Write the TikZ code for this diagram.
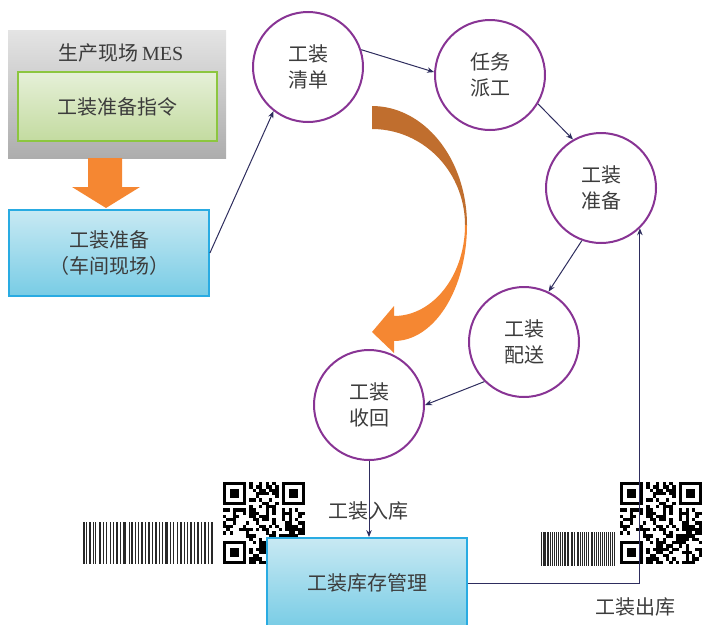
\documentclass[tikz,border=0pt]{standalone}
\usepackage{fontspec}
\setmainfont{Liberation Serif}
\newfontfamily\cjk{Noto Sans CJK SC}
\usetikzlibrary{arrows.meta}
\definecolor{navyline}{RGB}{46,45,94}
\definecolor{circpurple}{RGB}{136,52,148}
\definecolor{txtgray}{RGB}{60,60,60}
\definecolor{arcbrown}{RGB}{192,110,46}
\definecolor{arcorange}{RGB}{245,135,50}
\definecolor{greenborder}{RGB}{140,198,63}
\definecolor{greentop}{RGB}{230,240,216}
\definecolor{greenbot}{RGB}{195,219,160}
\definecolor{blueborder}{RGB}{41,171,226}
\definecolor{bluetop}{RGB}{200,233,243}
\definecolor{bluebot}{RGB}{120,204,229}
\definecolor{graytop}{RGB}{228,228,228}
\definecolor{graybot}{RGB}{173,173,173}
\definecolor{barcol}{RGB}{40,40,40}
\tikzset{
  txt/.style={font=\cjk\fontsize{20}{26}\selectfont, text=txtgray, align=center},
  circ/.style={txt, circle, draw=circpurple, line width=2pt, fill=white, minimum size=110pt, inner sep=0pt},
  graybox/.style={rectangle, top color=graytop, bottom color=graybot, minimum width=218pt, minimum height=128pt, inner sep=0pt},
  greenbox/.style={txt, rectangle, draw=greenborder, line width=1.8pt, top color=greentop, bottom color=greenbot, minimum width=199pt, minimum height=69pt, inner sep=0pt},
  bluebox/.style={txt, rectangle, draw=blueborder, line width=1.8pt, top color=bluetop, bottom color=bluebot, minimum width=200pt, inner sep=0pt},
  conn/.style={draw=navyline, line width=1pt, -{Stealth[length=7pt,width=5.5pt]}},
  barcode/.pic={
    \foreach \p/\w in {0/1.2, 2.5/0.8, 4.5/1.6, 7.5/0.8, 9.5/0.8, 12/2.0, 15.5/0.8, 17.5/1.2, 20.5/0.8, 23/0.8, 25/1.6, 28.5/0.8, 31/2.4, 35/0.8, 37/1.2, 40/0.8, 42/0.8, 44.5/2.0, 48/0.8, 50/1.2, 53/0.8, 55.5/1.6, 58.5/0.8, 61/0.8, 63/2.4, 67/0.8, 69/1.2, 72/0.8, 74.5/1.6, 77.5/0.8, 80/0.8, 82/2.0, 85.5/0.8, 88/1.2, 91/0.8, 93/1.6, 96/0.8, 98.8/1.2}
      {\fill[barcol] (\p,0) rectangle ++(\w,1);}
  },
  qrcode/.pic={
    \pgfmathsetseed{4242}
    \begin{scope}
      \clip (0,0) rectangle (82,82);
      \foreach \i in {0,...,24}{
        \foreach \j in {0,...,24}{
          \pgfmathrandominteger{\r}{0}{1}
          \ifnum\r=1\relax \fill[black] (\i*3.28,\j*3.28) rectangle ++(3.3,3.3);\fi
        }
      }
      \foreach \a/\b in {0/0,18/0,0/18}{
        \fill[white] ({(\a-1)*3.28},{(\b-1)*3.28}) rectangle ++(29.52,29.52);
        \fill[black] ({\a*3.28},{\b*3.28}) rectangle ++(22.96,22.96);
        \fill[white] ({(\a+1)*3.28},{(\b+1)*3.28}) rectangle ++(16.4,16.4);
        \fill[black] ({(\a+2)*3.28},{(\b+2)*3.28}) rectangle ++(9.84,9.84);
      }
    \end{scope}
  }
}
\begin{document}
\begin{tikzpicture}[x=1pt,y=-1pt]
\useasboundingbox (0,0) rectangle (703,624);
\clip (0,0) rectangle (703,624);

% top-left MES block
\node[graybox] (mes) at (117,94) {};
\node[txt] (mestxt) at (121,53) {生产现场\,{\rmfamily\fontsize{20}{26}\selectfont MES}};
\node[greenbox] (cmd) at (117.5,106.5) {工装准备指令};
\node[bluebox, minimum height=86pt] (prep) at (109,253) {工装准备\\（车间现场）};
\fill[arcorange] (88,158) -- (122,158) -- (122,187) -- (140,187) -- (106,208) -- (72,187) -- (88,187) -- cycle;

% barcodes and QR codes
\pic[xscale=1.3, yscale=42] at (83,522) {barcode};
\pic[xscale=0.74, yscale=34] at (541,532) {barcode};
\pic at (223,482) {qrcode};
\pic at (620,482) {qrcode};

% curved block arrow
\fill[arcbrown] (372,106) -- plot[domain=90:0, samples=40, variable=\t] ({372+95*cos(\t)},{225-119*sin(\t)})
  -- plot[domain=0:90, samples=40, variable=\t] ({372+93*cos(\t)},{225-96*sin(\t)}) -- cycle;
\fill[arcorange] (467,225) -- plot[domain=0:-90, samples=40, variable=\t] ({394+73*cos(\t)},{225-116*sin(\t)})
  -- (394,353) -- (372,332) -- (394,306)
  -- plot[domain=-90:0, samples=40, variable=\t] ({394+71*cos(\t)},{225-91*sin(\t)}) -- cycle;

% circles
\node[circ] (c1) at (308,67) {工装\\清单};
\node[circ] (c2) at (490,75) {任务\\派工};
\node[circ] (c3) at (601,188) {工装\\准备};
\node[circ] (c4) at (524,342) {工装\\配送};
\node[circ] (c5) at (369,405) {工装\\收回};

% storage box
\node[bluebox, minimum height=90pt] (store) at (367,583) {工装库存管理};

% connectors
\draw[conn] (prep.east) -- (c1.232);
\draw[conn] (c1.18) -- (c2.177);
\draw[conn] (c2.329) -- (c3.120);
\draw[conn] (c3.250) -- (c4.64);
\draw[conn] (c4.225) -- (c5.0);
\draw[conn] (c5.south) -- (c5.south |- store.north);
\draw[conn] (store.east) -| (c3.314);

% labels
\node[txt] (inlbl) at (368,511) {工装入库};
\node[txt] (outlbl) at (635,607) {工装出库};
\end{tikzpicture}
\end{document}
